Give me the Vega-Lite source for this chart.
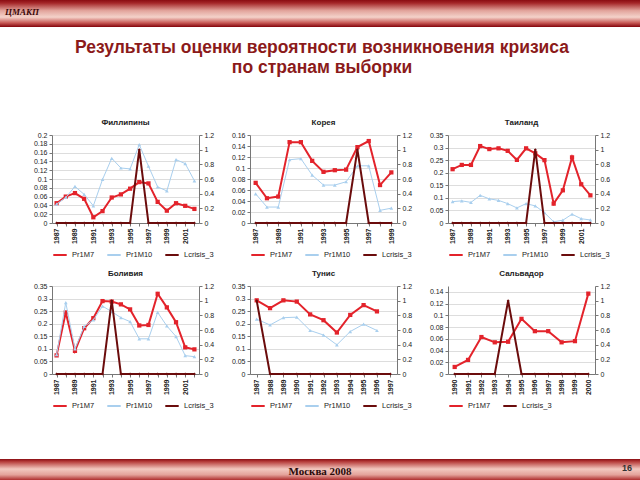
{
  "$schema": "https://vega.github.io/schema/vega-lite/v6.json",
  "padding": 0,
  "background": "#ffffff",
  "spacing": 0,
  "title": {"text": "Москва 2008", "orient": "bottom", "anchor": "middle", "frame": "bounds", "offset": -16, "baseline": "top", "font": "Liberation Serif", "fontSize": 11, "fontWeight": "bold", "color": "#2a0a0a"},
  "config": {
    "font": "Liberation Sans",
    "view": {"stroke": null},
    "axis": {"labelFontSize": 7, "labelColor": "#222222", "domainColor": "#777777", "tickColor": "#777777", "tickSize": 3, "labelPadding": 2, "grid": false, "labelFont": "Liberation Sans", "labelOverlap": false},
    "legend": {"orient": "bottom", "direction": "horizontal", "title": null, "symbolType": "stroke", "symbolStrokeWidth": 2, "symbolSize": 180, "labelFontSize": 7.5, "labelColor": "#222222", "columnPadding": 8, "offset": 3, "padding": 0, "labelFont": "Liberation Sans"},
    "title": {"fontSize": 8, "fontWeight": "bold", "color": "#222222", "offset": 4, "frame": "group", "font": "Liberation Sans"}
  },
  "data": {"values": [
    {"c": "PH", "year": 1987, "Pr1M7": 0.045, "Pr1M10": 0.043, "Lcrisis_3": 0},
    {"c": "PH", "year": 1988, "Pr1M7": 0.060, "Pr1M10": 0.058, "Lcrisis_3": 0},
    {"c": "PH", "year": 1989, "Pr1M7": 0.068, "Pr1M10": 0.083, "Lcrisis_3": 0},
    {"c": "PH", "year": 1990, "Pr1M7": 0.055, "Pr1M10": 0.065, "Lcrisis_3": 0},
    {"c": "PH", "year": 1991, "Pr1M7": 0.013, "Pr1M10": 0.039, "Lcrisis_3": 0},
    {"c": "PH", "year": 1992, "Pr1M7": 0.027, "Pr1M10": 0.099, "Lcrisis_3": 0},
    {"c": "PH", "year": 1993, "Pr1M7": 0.058, "Pr1M10": 0.147, "Lcrisis_3": 0},
    {"c": "PH", "year": 1994, "Pr1M7": 0.065, "Pr1M10": 0.125, "Lcrisis_3": 0},
    {"c": "PH", "year": 1995, "Pr1M7": 0.078, "Pr1M10": 0.123, "Lcrisis_3": 0},
    {"c": "PH", "year": 1996, "Pr1M7": 0.093, "Pr1M10": 0.178, "Lcrisis_3": 1},
    {"c": "PH", "year": 1997, "Pr1M7": 0.090, "Pr1M10": 0.129, "Lcrisis_3": 0},
    {"c": "PH", "year": 1998, "Pr1M7": 0.048, "Pr1M10": 0.082, "Lcrisis_3": 0},
    {"c": "PH", "year": 1999, "Pr1M7": 0.028, "Pr1M10": 0.073, "Lcrisis_3": 0},
    {"c": "PH", "year": 2000, "Pr1M7": 0.045, "Pr1M10": 0.144, "Lcrisis_3": 0},
    {"c": "PH", "year": 2001, "Pr1M7": 0.039, "Pr1M10": 0.135, "Lcrisis_3": 0},
    {"c": "PH", "year": 2002, "Pr1M7": 0.032, "Pr1M10": 0.096, "Lcrisis_3": 0},
    {"c": "KR", "year": 1987, "Pr1M7": 0.073, "Pr1M10": 0.053, "Lcrisis_3": 0},
    {"c": "KR", "year": 1988, "Pr1M7": 0.045, "Pr1M10": 0.029, "Lcrisis_3": 0},
    {"c": "KR", "year": 1989, "Pr1M7": 0.048, "Pr1M10": 0.029, "Lcrisis_3": 0},
    {"c": "KR", "year": 1990, "Pr1M7": 0.147, "Pr1M10": 0.115, "Lcrisis_3": 0},
    {"c": "KR", "year": 1991, "Pr1M7": 0.147, "Pr1M10": 0.117, "Lcrisis_3": 0},
    {"c": "KR", "year": 1992, "Pr1M7": 0.113, "Pr1M10": 0.087, "Lcrisis_3": 0},
    {"c": "KR", "year": 1993, "Pr1M7": 0.093, "Pr1M10": 0.069, "Lcrisis_3": 0},
    {"c": "KR", "year": 1994, "Pr1M7": 0.096, "Pr1M10": 0.069, "Lcrisis_3": 0},
    {"c": "KR", "year": 1995, "Pr1M7": 0.097, "Pr1M10": 0.075, "Lcrisis_3": 0},
    {"c": "KR", "year": 1996, "Pr1M7": 0.138, "Pr1M10": 0.104, "Lcrisis_3": 1},
    {"c": "KR", "year": 1997, "Pr1M7": 0.149, "Pr1M10": 0.104, "Lcrisis_3": 0},
    {"c": "KR", "year": 1998, "Pr1M7": 0.069, "Pr1M10": 0.023, "Lcrisis_3": 0},
    {"c": "KR", "year": 1999, "Pr1M7": 0.092, "Pr1M10": 0.027, "Lcrisis_3": 0},
    {"c": "TH", "year": 1987, "Pr1M7": 0.214, "Pr1M10": 0.085, "Lcrisis_3": 0},
    {"c": "TH", "year": 1988, "Pr1M7": 0.231, "Pr1M10": 0.088, "Lcrisis_3": 0},
    {"c": "TH", "year": 1989, "Pr1M7": 0.231, "Pr1M10": 0.082, "Lcrisis_3": 0},
    {"c": "TH", "year": 1990, "Pr1M7": 0.306, "Pr1M10": 0.110, "Lcrisis_3": 0},
    {"c": "TH", "year": 1991, "Pr1M7": 0.294, "Pr1M10": 0.096, "Lcrisis_3": 0},
    {"c": "TH", "year": 1992, "Pr1M7": 0.297, "Pr1M10": 0.090, "Lcrisis_3": 0},
    {"c": "TH", "year": 1993, "Pr1M7": 0.287, "Pr1M10": 0.077, "Lcrisis_3": 0},
    {"c": "TH", "year": 1994, "Pr1M7": 0.251, "Pr1M10": 0.060, "Lcrisis_3": 0},
    {"c": "TH", "year": 1995, "Pr1M7": 0.297, "Pr1M10": 0.077, "Lcrisis_3": 0},
    {"c": "TH", "year": 1996, "Pr1M7": 0.277, "Pr1M10": 0.068, "Lcrisis_3": 1},
    {"c": "TH", "year": 1997, "Pr1M7": 0.250, "Pr1M10": 0.041, "Lcrisis_3": 0},
    {"c": "TH", "year": 1998, "Pr1M7": 0.077, "Pr1M10": 0.005, "Lcrisis_3": 0},
    {"c": "TH", "year": 1999, "Pr1M7": 0.130, "Pr1M10": 0.011, "Lcrisis_3": 0},
    {"c": "TH", "year": 2000, "Pr1M7": 0.261, "Pr1M10": 0.035, "Lcrisis_3": 0},
    {"c": "TH", "year": 2001, "Pr1M7": 0.154, "Pr1M10": 0.017, "Lcrisis_3": 0},
    {"c": "TH", "year": 2002, "Pr1M7": 0.110, "Pr1M10": 0.012, "Lcrisis_3": 0},
    {"c": "BO", "year": 1987, "Pr1M7": 0.074, "Pr1M10": 0.077, "Lcrisis_3": 0},
    {"c": "BO", "year": 1988, "Pr1M7": 0.245, "Pr1M10": 0.284, "Lcrisis_3": 0},
    {"c": "BO", "year": 1989, "Pr1M7": 0.092, "Pr1M10": 0.100, "Lcrisis_3": 0},
    {"c": "BO", "year": 1990, "Pr1M7": 0.182, "Pr1M10": 0.189, "Lcrisis_3": 0},
    {"c": "BO", "year": 1991, "Pr1M7": 0.222, "Pr1M10": 0.215, "Lcrisis_3": 0},
    {"c": "BO", "year": 1992, "Pr1M7": 0.290, "Pr1M10": 0.270, "Lcrisis_3": 0},
    {"c": "BO", "year": 1993, "Pr1M7": 0.288, "Pr1M10": 0.248, "Lcrisis_3": 1},
    {"c": "BO", "year": 1994, "Pr1M7": 0.277, "Pr1M10": 0.224, "Lcrisis_3": 0},
    {"c": "BO", "year": 1995, "Pr1M7": 0.257, "Pr1M10": 0.208, "Lcrisis_3": 0},
    {"c": "BO", "year": 1996, "Pr1M7": 0.193, "Pr1M10": 0.140, "Lcrisis_3": 0},
    {"c": "BO", "year": 1997, "Pr1M7": 0.195, "Pr1M10": 0.140, "Lcrisis_3": 0},
    {"c": "BO", "year": 1998, "Pr1M7": 0.319, "Pr1M10": 0.245, "Lcrisis_3": 0},
    {"c": "BO", "year": 1999, "Pr1M7": 0.265, "Pr1M10": 0.191, "Lcrisis_3": 0},
    {"c": "BO", "year": 2000, "Pr1M7": 0.206, "Pr1M10": 0.149, "Lcrisis_3": 0},
    {"c": "BO", "year": 2001, "Pr1M7": 0.106, "Pr1M10": 0.073, "Lcrisis_3": 0},
    {"c": "BO", "year": 2002, "Pr1M7": 0.098, "Pr1M10": 0.069, "Lcrisis_3": 0},
    {"c": "TN", "year": 1987, "Pr1M7": 0.293, "Pr1M10": 0.218, "Lcrisis_3": 1},
    {"c": "TN", "year": 1988, "Pr1M7": 0.262, "Pr1M10": 0.195, "Lcrisis_3": 0},
    {"c": "TN", "year": 1989, "Pr1M7": 0.293, "Pr1M10": 0.224, "Lcrisis_3": 0},
    {"c": "TN", "year": 1990, "Pr1M7": 0.288, "Pr1M10": 0.226, "Lcrisis_3": 0},
    {"c": "TN", "year": 1991, "Pr1M7": 0.237, "Pr1M10": 0.173, "Lcrisis_3": 0},
    {"c": "TN", "year": 1992, "Pr1M7": 0.214, "Pr1M10": 0.155, "Lcrisis_3": 0},
    {"c": "TN", "year": 1993, "Pr1M7": 0.165, "Pr1M10": 0.116, "Lcrisis_3": 0},
    {"c": "TN", "year": 1994, "Pr1M7": 0.235, "Pr1M10": 0.169, "Lcrisis_3": 0},
    {"c": "TN", "year": 1995, "Pr1M7": 0.274, "Pr1M10": 0.198, "Lcrisis_3": 0},
    {"c": "TN", "year": 1996, "Pr1M7": 0.249, "Pr1M10": 0.173, "Lcrisis_3": 0},
    {"c": "TN", "year": 1997, "Pr1M7": null, "Pr1M10": null, "Lcrisis_3": 0},
    {"c": "SV", "year": 1990, "Pr1M7": 0.012, "Lcrisis_3": 0},
    {"c": "SV", "year": 1991, "Pr1M7": 0.024, "Lcrisis_3": 0},
    {"c": "SV", "year": 1992, "Pr1M7": 0.063, "Lcrisis_3": 0},
    {"c": "SV", "year": 1993, "Pr1M7": 0.054, "Lcrisis_3": 0},
    {"c": "SV", "year": 1994, "Pr1M7": 0.055, "Lcrisis_3": 1},
    {"c": "SV", "year": 1995, "Pr1M7": 0.094, "Lcrisis_3": 0},
    {"c": "SV", "year": 1996, "Pr1M7": 0.073, "Lcrisis_3": 0},
    {"c": "SV", "year": 1997, "Pr1M7": 0.073, "Lcrisis_3": 0},
    {"c": "SV", "year": 1998, "Pr1M7": 0.054, "Lcrisis_3": 0},
    {"c": "SV", "year": 1999, "Pr1M7": 0.056, "Lcrisis_3": 0},
    {"c": "SV", "year": 2000, "Pr1M7": 0.137, "Lcrisis_3": 0}
  ]},
  "vconcat": [
    {
      "width": 640, "height": 38,
      "data": {"values": [{"band": "header"}]},
      "title": {"text": "ЦМАКП", "orient": "bottom", "anchor": "start", "frame": "group", "offset": -30, "baseline": "top", "dx": 5, "font": "Liberation Serif", "fontStyle": "italic", "fontWeight": "bold", "fontSize": 9, "color": "#3a0808"},
      "mark": {"type": "rect", "color": {"gradient": "linear", "x1": 0, "y1": 0, "x2": 0, "y2": 1, "stops": [
        {"offset": 0, "color": "#8a0c12"}, {"offset": 0.08, "color": "#a42628"}, {"offset": 0.28, "color": "#e2a49c"}, {"offset": 0.45, "color": "#f4d2ca"}, {"offset": 0.6, "color": "#c85a56"}, {"offset": 0.7, "color": "#8a0c12"}, {"offset": 0.705, "color": "#ffffff"}, {"offset": 1, "color": "#ffffff"}]}},
      "encoding": {}
    },
    {
      "title": {"text": ["Результаты оценки вероятности возникновения кризиса", "по странам выборки"], "anchor": "middle", "frame": "bounds", "offset": 43, "baseline": "top", "dx": 17, "fontSize": 17.5, "lineHeight": 20, "fontWeight": "bold", "color": "#8b1a1a", "font": "Liberation Sans"},
      "columns": 4,
      "spacing": {"row": 63, "column": 51},
      "bounds": "flush",
      "resolve": {"scale": {"color": "independent"}, "legend": {"color": "independent"}},
      "concat": [
        {"width": 1, "height": 88, "data": {"values": []}, "mark": "point"},
        {
          "title": "Филлипины", "width": 147, "height": 88,
          "transform": [{"filter": "datum.c === 'PH'"}],
          "encoding": {"x": {"field": "year", "type": "ordinal", "title": null, "scale": {"padding": 0.5}, "axis": {"labelAngle": -90, "labelFontWeight": "bold", "labelExpr": "datum.value % 2 == 1 ? datum.label : ''"}}},
          "layer": [
            {"layer": [
              {"mark": {"type": "line", "strokeWidth": 2, "point": {"shape": "square", "size": 18, "filled": true}},
               "encoding": {"y": {"field": "Pr1M7", "type": "quantitative", "title": null, "scale": {"domain": [0, 0.2]}, "axis": {"values": [0, 0.02, 0.04, 0.06, 0.08, 0.1, 0.12, 0.14, 0.16, 0.18, 0.2], "format": ".2~f", "grid": true, "gridColor": "#dddddd"}},
                            "color": {"datum": "Pr1M7", "scale": {"domain": ["Pr1M7", "Pr1M10", "Lcrisis_3"], "range": ["#e3232b", "#a9cfee", "#6b0c0c"]}}}},
              {"mark": {"type": "line", "strokeWidth": 1, "point": {"shape": "triangle-up", "size": 14, "filled": true}},
               "encoding": {"y": {"field": "Pr1M10", "type": "quantitative", "title": null, "scale": {"domain": [0, 0.2]}, "axis": {"values": [0, 0.02, 0.04, 0.06, 0.08, 0.1, 0.12, 0.14, 0.16, 0.18, 0.2], "format": ".2~f", "grid": true, "gridColor": "#dddddd"}}, "color": {"datum": "Pr1M10"}}}
            ]},
            {"mark": {"type": "line", "strokeWidth": 2, "point": {"shape": "diamond", "size": 8, "filled": true}},
             "encoding": {"y": {"field": "Lcrisis_3", "type": "quantitative", "title": null, "scale": {"domain": [0, 1.2]}, "axis": {"orient": "right", "values": [0, 0.2, 0.4, 0.6, 0.8, 1, 1.2], "format": ".1~f"}}, "color": {"datum": "Lcrisis_3"}}}
          ],
          "resolve": {"scale": {"y": "independent"}}
        },
        {
          "title": "Корея", "width": 147, "height": 88,
          "transform": [{"filter": "datum.c === 'KR'"}],
          "encoding": {"x": {"field": "year", "type": "ordinal", "title": null, "scale": {"padding": 0.5}, "axis": {"labelAngle": -90, "labelFontWeight": "bold", "labelExpr": "datum.value % 2 == 1 ? datum.label : ''"}}},
          "layer": [
            {"layer": [
              {"mark": {"type": "line", "strokeWidth": 2, "point": {"shape": "square", "size": 18, "filled": true}},
               "encoding": {"y": {"field": "Pr1M7", "type": "quantitative", "title": null, "scale": {"domain": [0, 0.16]}, "axis": {"values": [0, 0.02, 0.04, 0.06, 0.08, 0.1, 0.12, 0.14, 0.16], "format": ".2~f", "grid": true, "gridColor": "#dddddd"}},
                            "color": {"datum": "Pr1M7", "scale": {"domain": ["Pr1M7", "Pr1M10", "Lcrisis_3"], "range": ["#e3232b", "#a9cfee", "#6b0c0c"]}}}},
              {"mark": {"type": "line", "strokeWidth": 1, "point": {"shape": "triangle-up", "size": 14, "filled": true}},
               "encoding": {"y": {"field": "Pr1M10", "type": "quantitative", "title": null, "scale": {"domain": [0, 0.16]}, "axis": {"values": [0, 0.02, 0.04, 0.06, 0.08, 0.1, 0.12, 0.14, 0.16], "format": ".2~f", "grid": true, "gridColor": "#dddddd"}}, "color": {"datum": "Pr1M10"}}}
            ]},
            {"mark": {"type": "line", "strokeWidth": 2, "point": {"shape": "diamond", "size": 8, "filled": true}},
             "encoding": {"y": {"field": "Lcrisis_3", "type": "quantitative", "title": null, "scale": {"domain": [0, 1.2]}, "axis": {"orient": "right", "values": [0, 0.2, 0.4, 0.6, 0.8, 1, 1.2], "format": ".1~f"}}, "color": {"datum": "Lcrisis_3"}}}
          ],
          "resolve": {"scale": {"y": "independent"}}
        },
        {
          "title": "Таиланд", "width": 147, "height": 88,
          "transform": [{"filter": "datum.c === 'TH'"}],
          "encoding": {"x": {"field": "year", "type": "ordinal", "title": null, "scale": {"padding": 0.5}, "axis": {"labelAngle": -90, "labelFontWeight": "bold", "labelExpr": "datum.value % 2 == 1 ? datum.label : ''"}}},
          "layer": [
            {"layer": [
              {"mark": {"type": "line", "strokeWidth": 2, "point": {"shape": "square", "size": 18, "filled": true}},
               "encoding": {"y": {"field": "Pr1M7", "type": "quantitative", "title": null, "scale": {"domain": [0, 0.35]}, "axis": {"values": [0, 0.05, 0.1, 0.15, 0.2, 0.25, 0.3, 0.35], "format": ".2~f", "grid": true, "gridColor": "#dddddd"}},
                            "color": {"datum": "Pr1M7", "scale": {"domain": ["Pr1M7", "Pr1M10", "Lcrisis_3"], "range": ["#e3232b", "#a9cfee", "#6b0c0c"]}}}},
              {"mark": {"type": "line", "strokeWidth": 1, "point": {"shape": "triangle-up", "size": 14, "filled": true}},
               "encoding": {"y": {"field": "Pr1M10", "type": "quantitative", "title": null, "scale": {"domain": [0, 0.35]}, "axis": {"values": [0, 0.05, 0.1, 0.15, 0.2, 0.25, 0.3, 0.35], "format": ".2~f", "grid": true, "gridColor": "#dddddd"}}, "color": {"datum": "Pr1M10"}}}
            ]},
            {"mark": {"type": "line", "strokeWidth": 2, "point": {"shape": "diamond", "size": 8, "filled": true}},
             "encoding": {"y": {"field": "Lcrisis_3", "type": "quantitative", "title": null, "scale": {"domain": [0, 1.2]}, "axis": {"orient": "right", "values": [0, 0.2, 0.4, 0.6, 0.8, 1, 1.2], "format": ".1~f"}}, "color": {"datum": "Lcrisis_3"}}}
          ],
          "resolve": {"scale": {"y": "independent"}}
        },
        {"width": 1, "height": 88, "data": {"values": []}, "mark": "point"},
        {
          "title": "Боливия", "width": 147, "height": 88,
          "transform": [{"filter": "datum.c === 'BO'"}],
          "encoding": {"x": {"field": "year", "type": "ordinal", "title": null, "scale": {"padding": 0.5}, "axis": {"labelAngle": -90, "labelFontWeight": "bold", "labelExpr": "datum.value % 2 == 1 ? datum.label : ''"}}},
          "layer": [
            {"layer": [
              {"mark": {"type": "line", "strokeWidth": 2, "point": {"shape": "square", "size": 18, "filled": true}},
               "encoding": {"y": {"field": "Pr1M7", "type": "quantitative", "title": null, "scale": {"domain": [0, 0.35]}, "axis": {"values": [0, 0.05, 0.1, 0.15, 0.2, 0.25, 0.3, 0.35], "format": ".2~f", "grid": true, "gridColor": "#dddddd"}},
                            "color": {"datum": "Pr1M7", "scale": {"domain": ["Pr1M7", "Pr1M10", "Lcrisis_3"], "range": ["#e3232b", "#a9cfee", "#6b0c0c"]}}}},
              {"mark": {"type": "line", "strokeWidth": 1, "point": {"shape": "triangle-up", "size": 14, "filled": true}},
               "encoding": {"y": {"field": "Pr1M10", "type": "quantitative", "title": null, "scale": {"domain": [0, 0.35]}, "axis": {"values": [0, 0.05, 0.1, 0.15, 0.2, 0.25, 0.3, 0.35], "format": ".2~f", "grid": true, "gridColor": "#dddddd"}}, "color": {"datum": "Pr1M10"}}}
            ]},
            {"mark": {"type": "line", "strokeWidth": 2, "point": {"shape": "diamond", "size": 8, "filled": true}},
             "encoding": {"y": {"field": "Lcrisis_3", "type": "quantitative", "title": null, "scale": {"domain": [0, 1.2]}, "axis": {"orient": "right", "values": [0, 0.2, 0.4, 0.6, 0.8, 1, 1.2], "format": ".1~f"}}, "color": {"datum": "Lcrisis_3"}}}
          ],
          "resolve": {"scale": {"y": "independent"}}
        },
        {
          "title": "Тунис", "width": 147, "height": 88,
          "transform": [{"filter": "datum.c === 'TN'"}],
          "encoding": {"x": {"field": "year", "type": "ordinal", "title": null, "scale": {"padding": 0.5}, "axis": {"labelAngle": -90, "labelFontWeight": "bold"}}},
          "layer": [
            {"layer": [
              {"mark": {"type": "line", "strokeWidth": 2, "point": {"shape": "square", "size": 18, "filled": true}},
               "encoding": {"y": {"field": "Pr1M7", "type": "quantitative", "title": null, "scale": {"domain": [0, 0.35]}, "axis": {"values": [0, 0.05, 0.1, 0.15, 0.2, 0.25, 0.3, 0.35], "format": ".2~f", "grid": true, "gridColor": "#dddddd"}},
                            "color": {"datum": "Pr1M7", "scale": {"domain": ["Pr1M7", "Pr1M10", "Lcrisis_3"], "range": ["#e3232b", "#a9cfee", "#6b0c0c"]}}}},
              {"mark": {"type": "line", "strokeWidth": 1, "point": {"shape": "triangle-up", "size": 14, "filled": true}},
               "encoding": {"y": {"field": "Pr1M10", "type": "quantitative", "title": null, "scale": {"domain": [0, 0.35]}, "axis": {"values": [0, 0.05, 0.1, 0.15, 0.2, 0.25, 0.3, 0.35], "format": ".2~f", "grid": true, "gridColor": "#dddddd"}}, "color": {"datum": "Pr1M10"}}}
            ]},
            {"mark": {"type": "line", "strokeWidth": 2, "point": {"shape": "diamond", "size": 8, "filled": true}},
             "encoding": {"y": {"field": "Lcrisis_3", "type": "quantitative", "title": null, "scale": {"domain": [0, 1.2]}, "axis": {"orient": "right", "values": [0, 0.2, 0.4, 0.6, 0.8, 1, 1.2], "format": ".1~f"}}, "color": {"datum": "Lcrisis_3"}}}
          ],
          "resolve": {"scale": {"y": "independent"}}
        },
        {
          "title": "Сальвадор", "width": 147, "height": 88,
          "transform": [{"filter": "datum.c === 'SV'"}],
          "encoding": {"x": {"field": "year", "type": "ordinal", "title": null, "scale": {"padding": 0.5}, "axis": {"labelAngle": -90, "labelFontWeight": "bold"}}},
          "layer": [
            {"mark": {"type": "line", "strokeWidth": 2, "point": {"shape": "square", "size": 18, "filled": true}},
             "encoding": {"y": {"field": "Pr1M7", "type": "quantitative", "title": null, "scale": {"domain": [0, 0.15]}, "axis": {"values": [0, 0.02, 0.04, 0.06, 0.08, 0.1, 0.12, 0.14], "format": ".2~f", "grid": true, "gridColor": "#dddddd"}},
                          "color": {"datum": "Pr1M7", "scale": {"domain": ["Pr1M7", "Lcrisis_3"], "range": ["#e3232b", "#6b0c0c"]}}}},
            {"mark": {"type": "line", "strokeWidth": 2, "point": {"shape": "diamond", "size": 8, "filled": true}},
             "encoding": {"y": {"field": "Lcrisis_3", "type": "quantitative", "title": null, "scale": {"domain": [0, 1.2]}, "axis": {"orient": "right", "values": [0, 0.2, 0.4, 0.6, 0.8, 1, 1.2], "format": ".1~f"}}, "color": {"datum": "Lcrisis_3"}}}
          ],
          "resolve": {"scale": {"y": "independent"}}
        }
      ]
    },
    {
      "width": 640, "height": 72,
      "data": {"values": [{"band": "footer"}]},
      "title": {"text": "16", "orient": "bottom", "anchor": "end", "frame": "group", "offset": -18, "baseline": "top", "dx": -8, "font": "Liberation Sans", "fontWeight": "bold", "fontSize": 9, "color": "#333333"},
      "mark": {"type": "rect", "color": {"gradient": "linear", "x1": 0, "y1": 0, "x2": 0, "y2": 1, "stops": [
        {"offset": 0, "color": "#ffffff"}, {"offset": 0.675, "color": "#ffffff"}, {"offset": 0.68, "color": "#8a0c12"}, {"offset": 0.72, "color": "#b8403e"}, {"offset": 0.82, "color": "#f2c8c0"}, {"offset": 0.9, "color": "#e4a29a"}, {"offset": 0.97, "color": "#b03232"}, {"offset": 1, "color": "#8a0c12"}]}},
      "encoding": {}
    }
  ]
}
